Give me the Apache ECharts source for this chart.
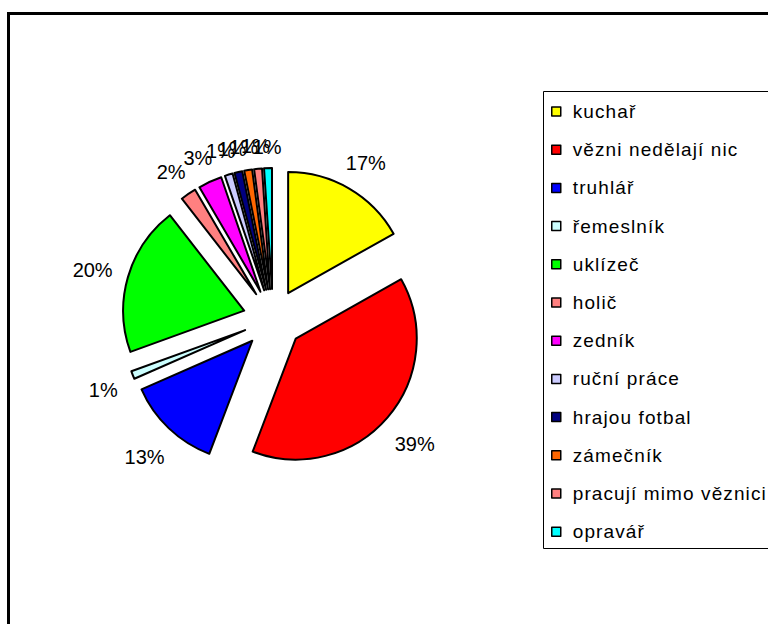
<!DOCTYPE html>
<html>
<head>
<meta charset="utf-8">
<script src="https://cdn.jsdelivr.net/npm/echarts@6/dist/echarts.min.js"></script>
<style>
  html, body { margin: 0; padding: 0; background: #fff; }
  #main { width: 768px; height: 624px; }
</style>
</head>
<body>
<div id="main"></div>
<script>
// categories and counts
var categories = ['kuchař', 'vězni nedělají nic', 'truhlář', 'řemeslník', 'uklízeč', 'holič',
    'zedník', 'ruční práce', 'hrajou fotbal', 'zámečník', 'pracují mimo věznici', 'opravář'];
var counts = [16, 37, 12, 1, 19, 2, 3, 1, 1, 1, 1, 1];
var colors = ['#FFFF00', '#FF0000', '#0000FF', '#CCFFFF', '#00FF00', '#FF8080',
    '#FF00FF', '#CCCCFF', '#000080', '#FF6600', '#FF8080', '#00FFFF'];

var pieCenter = [273, 319];
var pieRadius = 121;
var explode = 30;
var labelGap = 166; // distance from pie centre to the near side of a label box

var total = counts.reduce(function (a, b) { return a + b; }, 0);
var cum = [];
counts.reduce(function (acc, v, i) { cum[i] = acc; return acc + v; }, 0);

var chart = echarts.init(document.getElementById('main'), null, { renderer: 'svg' });

var pieData = categories.map(function (name, i) {
    return {
        name: name,
        value: counts[i],
        selected: true, // every slice pulled out (exploded pie)
        itemStyle: { color: colors[i] }
    };
});

chart.setOption({
    animation: false,
    textStyle: { fontFamily: 'Liberation Sans, Arial, sans-serif' },
    graphic: [{
        type: 'rect',
        shape: { x: 8.5, y: 13.5, width: 800, height: 700 },
        style: { fill: 'none', stroke: '#000', lineWidth: 3 },
        silent: true
    }, {
        // legend frame (runs off the right edge like the original)
        type: 'rect',
        shape: { x: 543.5, y: 91.5, width: 300, height: 457 },
        style: { fill: 'none', stroke: '#000', lineWidth: 1 },
        silent: true
    }],
    legend: {
        orient: 'vertical',
        left: 551,
        top: 102,
        padding: 0,
        itemGap: 19.2,
        itemWidth: 9,
        itemHeight: 9,
        icon: 'rect',
        itemStyle: { borderColor: '#000', borderWidth: 1.5 },
        textStyle: { fontSize: 19, color: '#000', lineHeight: 19, padding: [0, 0, 0, 7] },
        selectedMode: false,
        data: categories
    },
    series: [{
        type: 'pie',
        center: pieCenter,
        radius: pieRadius,
        startAngle: 90,
        clockwise: true,
        selectedMode: 'multiple',
        selectedOffset: explode,
        avoidLabelOverlap: false,
        legendHoverLink: false,
        emphasis: { disabled: true },
        itemStyle: { borderColor: '#000', borderWidth: 2 },
        label: {
            show: true,
            position: 'outside',
            color: '#000',
            fontSize: 20,
            formatter: function (p) { return Math.round(p.percent) + '%'; }
        },
        labelLine: { show: false },
        labelLayout: function (p) {
            // put each label box just outside the pie on the slice bisector;
            // the label also moves with its pulled-out slice, so take that back out
            var i = p.dataIndex;
            var mid = (cum[i] + counts[i] / 2) / total * Math.PI * 2;
            var sx = Math.sin(mid), sy = -Math.cos(mid);
            var r = p.labelRect;
            var d = labelGap + Math.abs(sx) * r.width / 2 + Math.abs(sy) * 9;
            var tx = pieCenter[0] + d * sx - explode * sx;
            var ty = pieCenter[1] + d * sy + 3 - explode * sy;
            return {
                dx: tx - (r.x + r.width / 2),
                dy: ty - (r.y + r.height / 2),
                hideOverlap: false,
                moveOverlap: null
            };
        },
        data: pieData
    }]
});

// Excel draws the legend text slightly letter-spaced
function spreadLegend() {
    var texts = document.querySelectorAll('#main text');
    texts.forEach(function (t) {
        if (categories.indexOf(t.textContent) >= 0) {
            t.style.letterSpacing = '1.1px';
        }
    });
}
spreadLegend();
chart.on('finished', spreadLegend);
</script>
</body>
</html>
